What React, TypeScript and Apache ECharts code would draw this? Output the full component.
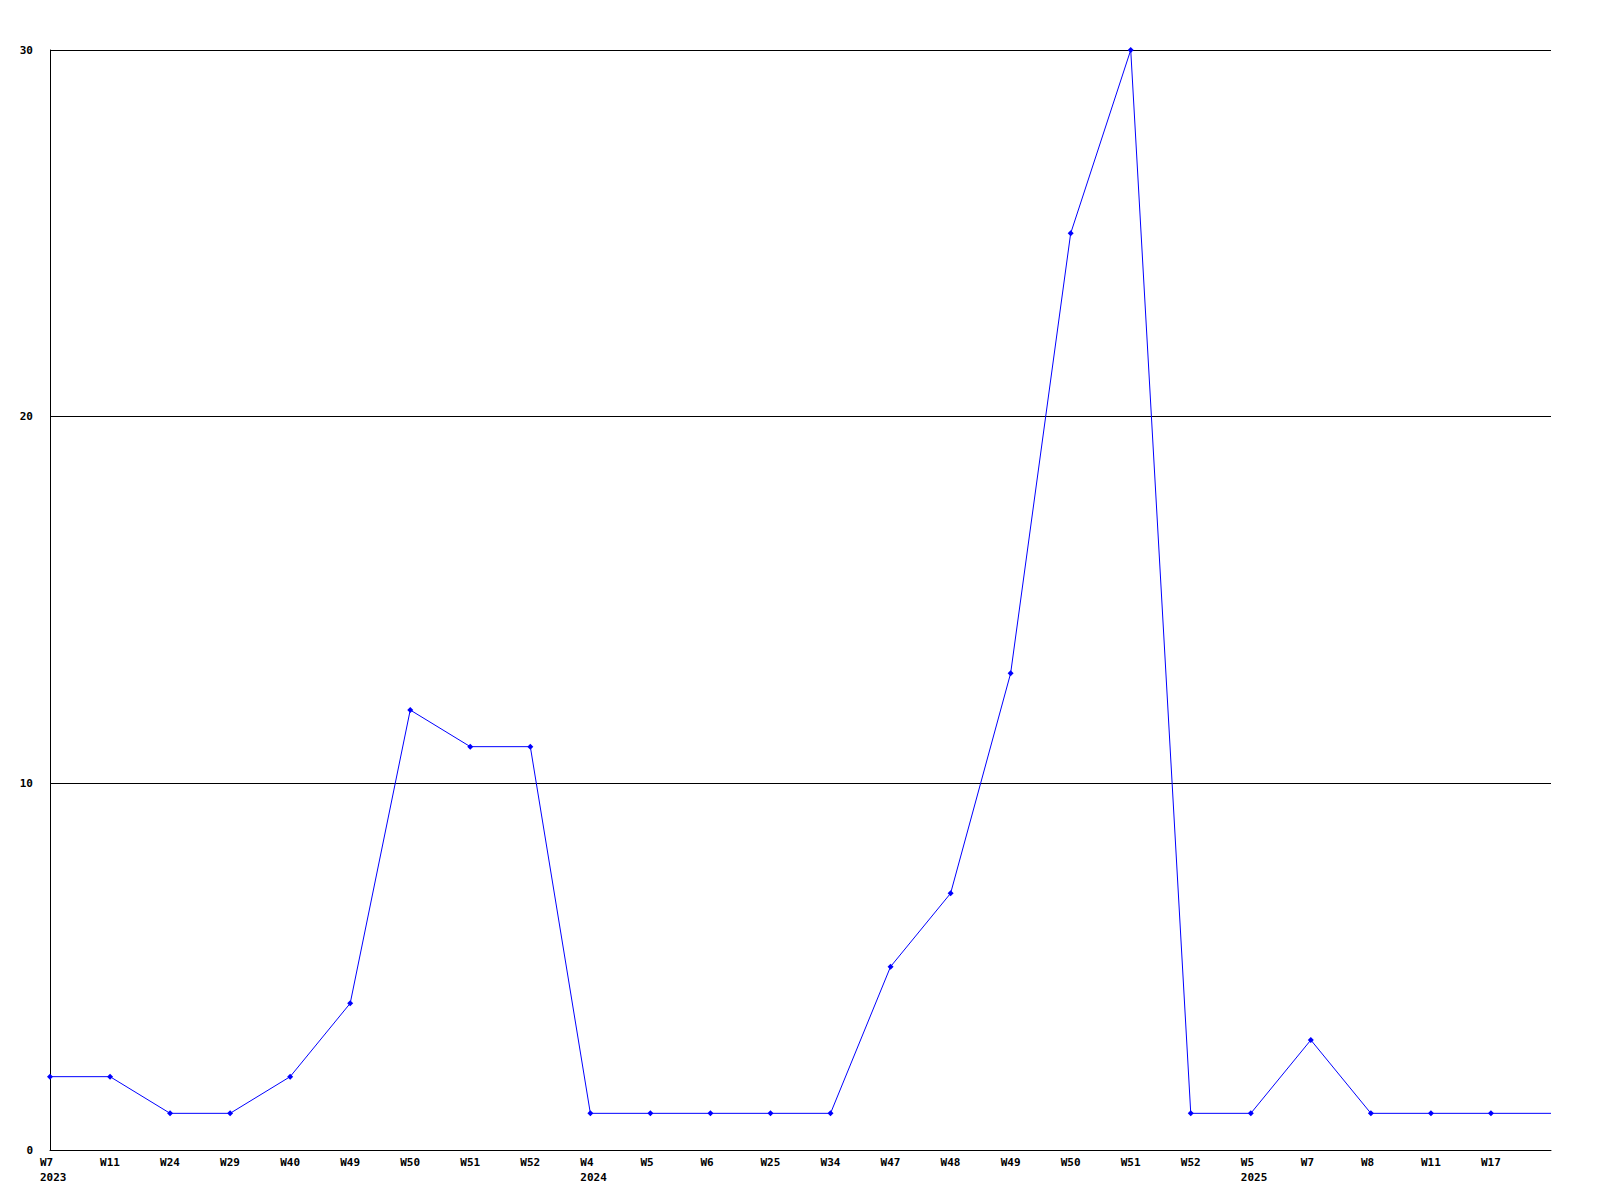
import React, { useEffect, useRef } from "react";
import * as echarts from "echarts";

const weeks = [
  "W7\n2023", "W11", "W24", "W29", "W40", "W49", "W50", "W51", "W52",
  "W4\n2024", "W5", "W6", "W25", "W34", "W47", "W48", "W49", "W50", "W51", "W52",
  "W5\n2025", "W7", "W8", "W11", "W17", "",
];
const counts = [2, 2, 1, 1, 2, 4, 12, 11, 11, 1, 1, 1, 1, 1, 5, 7, 13, 25, 30, 1, 1, 3, 1, 1, 1, 1];
const yTicks = { min: 0, max: 30, interval: 10 };

export default function App() {
  const ref = useRef<HTMLDivElement>(null);
  useEffect(() => {
    if (!ref.current) return;
    const chart = echarts.init(ref.current, undefined, { renderer: "svg" });
    const font = "'DejaVu Sans Mono', monospace";
    chart.setOption({
      animation: false,
      backgroundColor: "#ffffff",
      grid: { left: 50, right: 49, top: 50, bottom: 50, containLabel: false },
      xAxis: {
        type: "category",
        data: weeks,
        boundaryGap: false,
        axisLine: { show: true, lineStyle: { color: "#000", width: 1 } },
        axisTick: { show: false },
        splitLine: { show: false },
        axisLabel: {
          interval: 0,
          align: "left",
          margin: 5,
          padding: [0, 0, 0, -10],
          color: "#000",
          fontFamily: font,
          fontWeight: "bold",
          fontSize: 11,
          lineHeight: 15,
        },
      },
      yAxis: {
        type: "value",
        min: yTicks.min,
        max: yTicks.max,
        interval: yTicks.interval,
        axisLine: { show: true, lineStyle: { color: "#000", width: 1 } },
        axisTick: { show: false },
        splitLine: { show: true, lineStyle: { color: "#000", width: 1 } },
        axisLabel: {
          margin: 17,
          color: "#000",
          fontFamily: font,
          fontWeight: "bold",
          fontSize: 11,
        },
      },
      series: [
        {
          type: "line",
          data: counts.map((v, i) =>
            i === counts.length - 1 ? { value: v, symbolSize: 0 } : v
          ),
          symbol: "diamond",
          symbolSize: 6,
          showAllSymbol: true,
          lineStyle: { color: "#0000ff", width: 1 },
          itemStyle: { color: "#0000ff" },
        },
      ],
    });
    return () => chart.dispose();
  }, []);
  return (
    <div
      ref={ref}
      style={{ position: "absolute", left: 0, top: 0, width: 1600, height: 1200 }}
    />
  );
}
